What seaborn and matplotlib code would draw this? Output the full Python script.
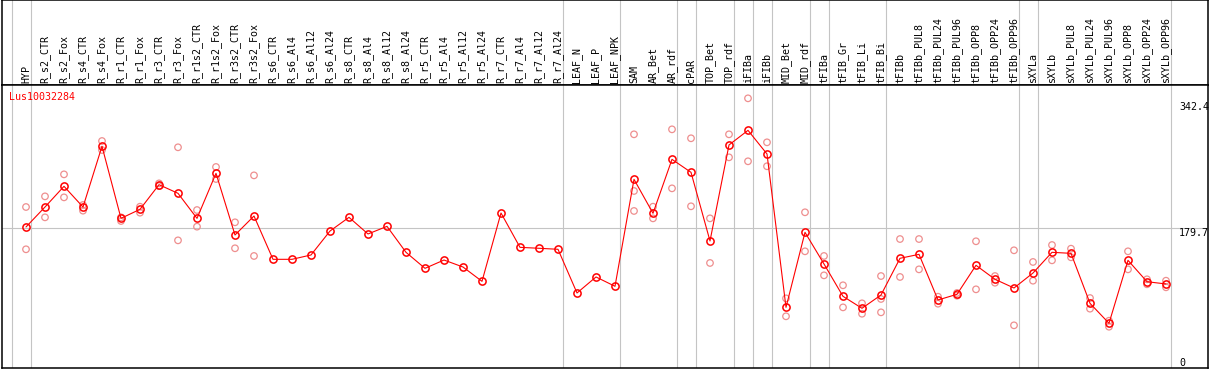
"""
Expression profile plot for one gene across tissue / treatment samples.
"""
import numpy as np
import pandas as pd
import matplotlib
matplotlib.use("Agg")
import matplotlib.pyplot as plt
import matplotlib.transforms as mtransforms
import seaborn as sns

# ── Data ───────────────────────────────────────────────────────────────────
gene_id = "Lus10032284"

samples = [
    "HYP", "R_s2_CTR", "R_s2_Fox", "R_s4_CTR", "R_s4_Fox", "R_r1_CTR", "R_r1_Fox",
    "R_r3_CTR", "R_r3_Fox", "R_r1s2_CTR", "R_r1s2_Fox", "R_r3s2_CTR", "R_r3s2_Fox",
    "R_s6_CTR", "R_s6_Al4", "R_s6_Al12", "R_s6_Al24", "R_s8_CTR", "R_s8_Al4",
    "R_s8_Al12", "R_s8_Al24", "R_r5_CTR", "R_r5_Al4", "R_r5_Al12", "R_r5_Al24",
    "R_r7_CTR", "R_r7_Al4", "R_r7_Al12", "R_r7_Al24", "LEAF_N", "LEAF_P", "LEAF_NPK",
    "SAM", "AR_Bet", "AR_rdf", "cPAR", "TOP_Bet", "TOP_rdf", "iFIBa", "iFIBb",
    "MID_Bet", "MID_rdf", "tFIBa", "tFIB_Gr", "tFIB_Li", "tFIB_Bi", "tFIBb",
    "tFIBb_PUL8", "tFIBb_PUL24", "tFIBb_PUL96", "tFIBb_OPP8", "tFIBb_OPP24",
    "tFIBb_OPP96", "sXYLa", "sXYLb", "sXYLb_PUL8", "sXYLb_PUL24", "sXYLb_PUL96",
    "sXYLb_OPP8", "sXYLb_OPP24", "sXYLb_OPP96",
]

mean_expr = [
    181.4, 207.1, 233.7, 207.1, 285.2, 192.5, 204.1, 235.8, 224.7, 192.5,
    250.4, 171.1, 195.5, 139.8, 139.8, 145.4, 176.2, 193.8, 172.4, 182.2,
    148.8, 128.2, 138.9, 129.9, 111.5, 199.4, 155.2, 154.0, 152.7, 96.5,
    117.1, 105.1, 242.7, 199.0, 268.4, 251.7, 163.4, 286.9, 305.7, 275.3,
    78.0, 174.5, 133.8, 92.2, 76.8, 93.9, 141.1, 146.2, 87.5, 94.8,
    132.1, 114.1, 102.9, 122.2, 148.8, 147.5, 83.2, 57.5, 138.5, 111.0,
    108.1,
]

nan = np.nan
rep_a = [
    207.1, 220.8, 249.1, 209.7, 292.0, 193.8, 207.5, 237.5, 283.9, 203.2,
    258.6, 187.4, 247.8, nan, nan, nan, nan, nan, nan, nan,
    nan, nan, nan, nan, nan, nan, nan, nan, nan, nan,
    nan, nan, 300.6, 207.5, 307.0, 295.5, 192.5, 300.6, 346.9, 290.3,
    89.6, 200.3, 144.1, 106.4, 83.2, 118.3, 165.9, 165.9, 91.7, 96.5,
    163.0, 118.3, 151.4, 136.4, 158.2, 153.5, 90.0, 60.8, 150.1, 114.1,
    112.3,
]
rep_b = [
    152.7, 193.8, 219.5, 202.4, 280.4, 189.1, 199.8, 234.0, 164.2, 181.8,
    243.1, 154.0, 144.1, nan, nan, nan, nan, nan, nan, nan,
    nan, nan, nan, nan, nan, nan, nan, nan, nan, nan,
    nan, nan, 227.7, 192.5, 231.1, 208.0, 135.1, 271.0, 265.9, 259.5,
    66.5, 150.1, 119.2, 78.0, 69.8, 88.8, 117.1, 126.9, 82.7, 93.0,
    101.2, 109.7, 54.9, 112.3, 138.5, 142.4, 76.3, 53.1, 126.9, 107.7,
    103.8,
]
rep_c = [nan] * 32 + [202.0] + [nan] * 12 + [71.6] + [nan] * 15

group_breaks = [-1, 0, 28, 31, 34, 35, 37, 38, 39, 41, 42, 45, 52, 53, 60]
y_ticks = [0, 179.7, 342.4]

# ── Style ──────────────────────────────────────────────────────────────────
sns.set_theme(style="white")
plt.rcParams["font.family"] = ["DejaVu Sans Mono"]

RED = "#FF0000"
REP = "#EE8E8E"
GRID = "#C4C4C4"

W, H = 1209, 370
fig = plt.figure(figsize=(W / 100, H / 100), dpi=100)

x0, xw = 1.5 / W, 1206 / W
ax_head = fig.add_axes([x0, (H - 85) / H, xw, 85 / H])
ax = fig.add_axes([x0, 2 / H, xw, 283 / H])

idx = np.arange(len(samples))
xlim = ((1.5 - 26) / 19, (1207.5 - 26) / 19)
ylim = (0, 283 / 0.7774)

# ── Header with rotated sample names ───────────────────────────────────────
ax_head.set_xlim(*xlim)
ax_head.set_ylim(0, 1)
ax_head.set_xticks([])
ax_head.set_yticks([])
for i, name in zip(idx, samples):
    ax_head.text(i, 0.025, name, rotation=90, ha="center", va="bottom",
                 fontsize=7.2, color="black")
for b in group_breaks:
    ax_head.axvline(b + 0.24, color=GRID, lw=0.8, zorder=0)

# ── Main expression panel ──────────────────────────────────────────────────
ax.set_xlim(*xlim)
ax.set_ylim(*ylim)
for b in group_breaks:
    ax.axvline(b + 0.24, color=GRID, lw=0.8, zorder=0)
ax.axhline(y_ticks[1], color=GRID, lw=0.8, zorder=0)

reps = pd.DataFrame({
    "idx": np.concatenate([idx, idx, idx]),
    "value": np.concatenate([rep_a, rep_b, rep_c]),
}).dropna()
sns.scatterplot(data=reps, x="idx", y="value", ax=ax, s=22, marker="o",
                facecolor="none", edgecolor=REP, linewidth=0.9, zorder=2)

sns.lineplot(x=idx, y=mean_expr, ax=ax, color=RED, lw=0.8, marker="o",
             markersize=5.2, markerfacecolor="none", markeredgecolor=RED,
             markeredgewidth=1.1, zorder=3)

ax.set_xticks([])
ax.set_yticks([])
ax.set_xlabel("")
ax.set_ylabel("")

ax.text(0.0065, 0.976, gene_id, transform=ax.transAxes, ha="left", va="top",
        fontsize=7.2, color=RED)

trans = mtransforms.blended_transform_factory(ax.transAxes, ax.transData)
for v in y_ticks:
    ax.text(0.9765, v, f"{v:g}", transform=trans, ha="left",
            va="bottom" if v == 0 else "top", fontsize=7.2, color="black",
            clip_on=False)

for a in (ax, ax_head):
    for s in a.spines.values():
        s.set_color("black")
        s.set_linewidth(1.1)

fig.savefig("out.png", dpi=100)
